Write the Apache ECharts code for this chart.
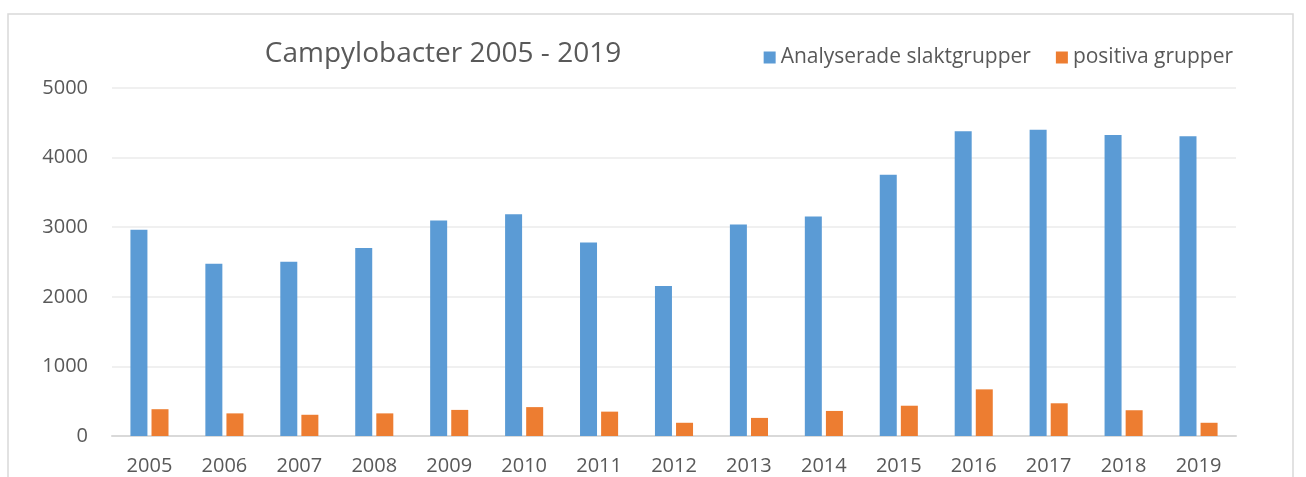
<!DOCTYPE html>
<html>
<head>
<meta charset="utf-8">
<script src="https://cdn.jsdelivr.net/npm/echarts@6/dist/echarts.min.js"></script>
<style>
  html, body { margin: 0; padding: 0; background: #fff; }
  #chart { width: 1306px; height: 477px; }
</style>
</head>
<body>
<div id="chart"></div>
<script>
// år på x-axeln
var years = ['2005', '2006', '2007', '2008', '2009', '2010', '2011', '2012',
             '2013', '2014', '2015', '2016', '2017', '2018', '2019'];
// analyserade slaktgrupper per år
var analyserade = [2965, 2475, 2505, 2700, 3095, 3185, 2780, 2155,
                   3040, 3155, 3755, 4380, 4400, 4325, 4305];
// positiva grupper per år
var positiva = [385, 325, 305, 325, 375, 415, 350, 190,
                260, 360, 435, 670, 470, 370, 190];
var yTicks = [0, 1000, 2000, 3000, 4000, 5000];

var textColor = '#595959';
var font = 'Open Sans';

var chart = echarts.init(document.getElementById('chart'));

var option = {
    animation: false,
    backgroundColor: '#fff',
    title: {
        text: 'Campylobacter 2005 - 2019',
        left: 438,
        top: 35,
        textAlign: 'center',
        textStyle: { color: textColor, fontFamily: font, fontSize: 28, fontWeight: 'normal' }
    },
    legend: {
        right: 68,
        top: 42,
        itemWidth: 12,
        itemHeight: 12,
        itemGap: 25,
        itemTextGap: 5,
        icon: 'rect',
        textStyle: { color: textColor, fontFamily: font, fontSize: 21 },
        data: ['Analyserade slaktgrupper', 'positiva grupper']
    },
    grid: { left: 112, right: 70, top: 88, bottom: 41 },
    xAxis: {
        type: 'category',
        data: years,
        axisTick: { show: false },
        axisLine: { lineStyle: { color: '#d9d9d9', width: 2 } },
        axisLabel: { color: textColor, fontFamily: font, fontSize: 20, margin: 20 }
    },
    yAxis: {
        type: 'value',
        min: yTicks[0],
        max: yTicks[yTicks.length - 1],
        interval: 1000,
        axisLine: { show: false },
        axisTick: { show: false },
        splitLine: { lineStyle: { color: '#ebebeb', width: 1.5 } },
        axisLabel: {
            color: textColor, fontFamily: font, fontSize: 20, margin: 24,
            formatter: function (v) { return String(v); }
        }
    },
    graphic: [{
        type: 'rect',
        shape: { x: 8, y: 14, width: 1285, height: 480 },
        style: { fill: 'none', stroke: '#d9d9d9', lineWidth: 1.5 },
        silent: true
    }],
    series: [{
        name: 'Analyserade slaktgrupper',
        type: 'bar',
        data: analyserade,
        barWidth: 17,
        barGap: '24%',
        itemStyle: { color: '#5b9bd5' }
    }, {
        name: 'positiva grupper',
        type: 'bar',
        data: positiva,
        barWidth: 17,
        barGap: '24%',
        itemStyle: { color: '#ed7d31' }
    }]
};

chart.setOption(option);
</script>
</body>
</html>
